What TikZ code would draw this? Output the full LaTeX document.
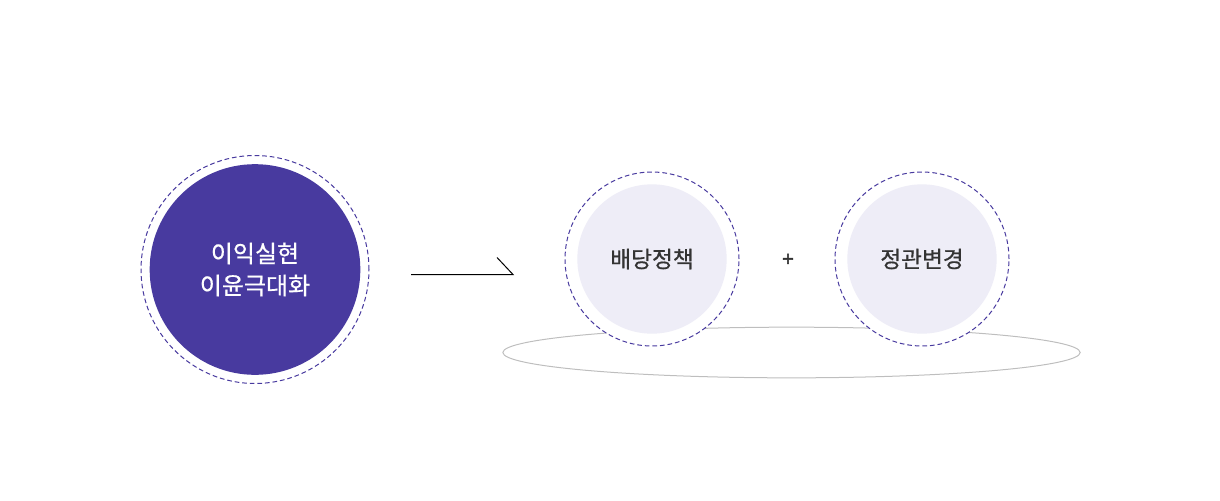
\documentclass[tikz,border=0pt]{standalone}
\usepackage{fontspec}
\usepackage{tikz}
\usetikzlibrary{shapes.geometric}
\newfontfamily\krfont[FakeBold=0.6]{Noto Sans CJK KR}
\newfontfamily\plusfont[FakeBold=2.5]{Noto Sans CJK KR}
\definecolor{mainpurple}{RGB}{72,58,159}
\definecolor{palelilac}{RGB}{238,237,247}
\definecolor{darktext}{RGB}{51,51,51}
\definecolor{basegray}{RGB}{190,190,190}

\tikzset{
  dashring/.style={circle, draw=mainpurple, fill=white, line width=0.75pt, dash pattern={on 3.5pt off 2.2pt}, inner sep=0pt},
  bigdisc/.style={circle, fill=mainpurple, inner sep=0pt, minimum size=158pt, text=white, align=center, font=\krfont\fontsize{18}{24}\selectfont},
  smalldisc/.style={circle, fill=palelilac, inner sep=0pt, minimum size=112pt, text=darktext, font=\krfont\fontsize{17}{20}\selectfont}
}

\begin{document}
\begin{tikzpicture}[x=0.75pt,y=0.75pt,yscale=-1,xscale=1]
\useasboundingbox (0,0) rectangle (1220,500);
% base ellipse
\node [ellipse, draw=basegray, line width=0.75pt, minimum width=433pt, minimum height=38pt, inner sep=0pt] (base) at (791.5,352.5) {};

% left circle
\node [dashring, minimum size=171pt] (profitring) at (255,269.5) {};
\node [bigdisc] (profit) at (255,269.5) {이익실현\\이윤극대화};

% arrow
\coordinate (arrowstart) at (411,274.5);
\coordinate (arrowend) at (513,274.5);
\coordinate (arrowtip) at (497,257.5);
\draw [line width=0.75pt] (arrowstart) -- (arrowend) -- (arrowtip);

% right circles
\node [dashring, minimum size=130.5pt] (dividendring) at (652,259) {};
\node [smalldisc] (dividend) at (652,259) {배당정책};
\node [dashring, minimum size=130.5pt] (charterring) at (922,259) {};
\node [smalldisc] (charter) at (922,259) {정관변경};

% Text Node
\node [text=darktext, font=\plusfont\fontsize{15}{15}\selectfont] (plus) at (788,260) {+};
\end{tikzpicture}
\end{document}
